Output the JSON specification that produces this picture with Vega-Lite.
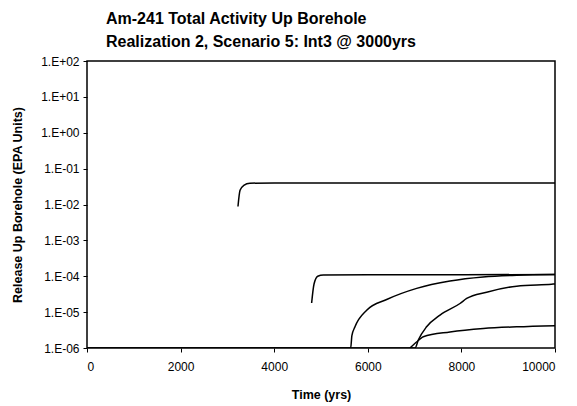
{
  "$schema": "https://vega.github.io/schema/vega-lite/v6.json",
  "width": 468,
  "height": 287,
  "autosize": "none",
  "padding": {"left": 87, "top": 61, "right": 22, "bottom": 58},
  "background": "white",
  "title": {
    "text": ["Am-241 Total Activity Up Borehole", "Realization 2, Scenario 5: Int3 @ 3000yrs"],
    "font": "Liberation Sans",
    "fontSize": 16,
    "fontWeight": "bold",
    "anchor": "start",
    "frame": "group",
    "dx": 19,
    "offset": 5,
    "lineHeight": 23,
    "color": "black"
  },
  "config": {
    "view": {"stroke": "black", "strokeWidth": 1.5},
    "axis": {
      "grid": false,
      "domainColor": "black",
      "tickColor": "black",
      "labelColor": "black",
      "titleColor": "black",
      "labelFont": "Liberation Sans",
      "titleFont": "Liberation Sans",
      "labelFontSize": 12,
      "titleFontSize": 12.5,
      "titleFontWeight": "bold",
      "tickSize": 4
    }
  },
  "data": {
    "values": [
      {"s": "a", "t": 3226, "v": 0.0088},
      {"s": "a", "t": 3270, "v": 0.025},
      {"s": "a", "t": 3350, "v": 0.034},
      {"s": "a", "t": 3480, "v": 0.039},
      {"s": "a", "t": 4000, "v": 0.04},
      {"s": "a", "t": 6000, "v": 0.04},
      {"s": "a", "t": 8000, "v": 0.04},
      {"s": "a", "t": 10000, "v": 0.04},
      {"s": "b", "t": 4800, "v": 0.000018},
      {"s": "b", "t": 4850, "v": 0.00006},
      {"s": "b", "t": 4930, "v": 0.0001},
      {"s": "b", "t": 5050, "v": 0.000108},
      {"s": "b", "t": 6000, "v": 0.00011},
      {"s": "b", "t": 8000, "v": 0.00011},
      {"s": "b", "t": 10000, "v": 0.000112},
      {"s": "c", "t": 0, "v": 0.000001},
      {"s": "c", "t": 5634, "v": 0.000001},
      {"s": "c", "t": 5660, "v": 0.0000022},
      {"s": "c", "t": 5726, "v": 0.0000039},
      {"s": "c", "t": 5976, "v": 0.0000113},
      {"s": "c", "t": 6403, "v": 0.0000225},
      {"s": "c", "t": 7044, "v": 0.000046},
      {"s": "c", "t": 7756, "v": 0.000074},
      {"s": "c", "t": 8462, "v": 0.000096},
      {"s": "c", "t": 9181, "v": 0.000107},
      {"s": "c", "t": 10000, "v": 0.000111},
      {"s": "d", "t": 0, "v": 0.000001},
      {"s": "d", "t": 7010, "v": 0.000001},
      {"s": "d", "t": 7079, "v": 0.00000167},
      {"s": "d", "t": 7256, "v": 0.0000039},
      {"s": "d", "t": 7543, "v": 0.0000083},
      {"s": "d", "t": 7970, "v": 0.0000174},
      {"s": "d", "t": 8113, "v": 0.000024},
      {"s": "d", "t": 8540, "v": 0.000036},
      {"s": "d", "t": 9181, "v": 0.000053},
      {"s": "d", "t": 9929, "v": 0.00006},
      {"s": "d", "t": 10000, "v": 0.000061},
      {"s": "e", "t": 6900, "v": 0.000001},
      {"s": "e", "t": 7100, "v": 0.0000017},
      {"s": "e", "t": 7186, "v": 0.00000206},
      {"s": "e", "t": 7756, "v": 0.0000028},
      {"s": "e", "t": 8469, "v": 0.0000035},
      {"s": "e", "t": 9181, "v": 0.0000039},
      {"s": "e", "t": 10000, "v": 0.0000042}
    ]
  },
  "mark": {"type": "line", "color": "black", "strokeWidth": 1.5, "interpolate": "monotone", "clip": true},
  "encoding": {
    "x": {
      "field": "t",
      "type": "quantitative",
      "scale": {"domain": [0, 10000], "nice": false},
      "axis": {"values": [0, 2000, 4000, 6000, 8000, 10000], "title": "Time (yrs)", "labelPadding": 9, "titlePadding": 16, "format": "d", "domain": false}
    },
    "y": {
      "field": "v",
      "type": "quantitative",
      "scale": {"type": "log", "domain": [0.000001, 100], "nice": false},
      "axis": {
        "values": [0.000001, 0.00001, 0.0001, 0.001, 0.01, 0.1, 1, 10, 100],
        "labelExpr": "'1.E' + (round(log(datum.value)/LN10) >= 0 ? '+' : '-') + (abs(round(log(datum.value)/LN10)) < 10 ? '0' : '') + abs(round(log(datum.value)/LN10))",
        "title": "Release Up Borehole (EPA Units)",
        "titlePadding": 16,
        "labelPadding": 4,
        "domain": false
      }
    },
    "detail": {"field": "s"}
  }
}
